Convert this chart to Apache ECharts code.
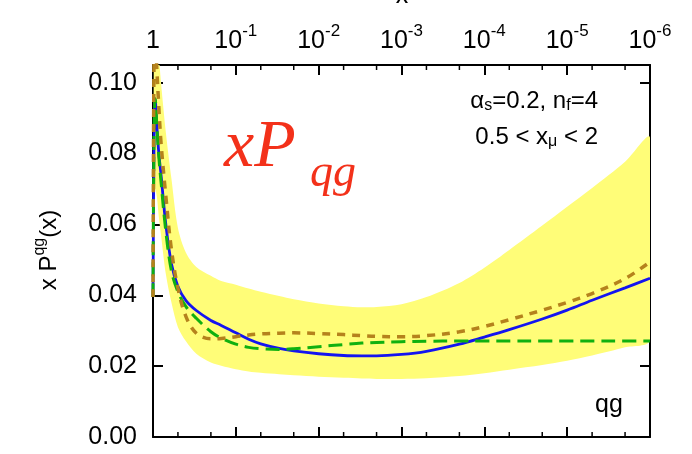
<!DOCTYPE html>
<html><head><meta charset="utf-8">
<script src="https://cdn.jsdelivr.net/npm/echarts@6.0.0/dist/echarts.min.js"></script>
<style>html,body{margin:0;padding:0;background:#fff}#c{width:692px;height:454px}</style>
</head><body><div id="c"></div>
<script>
// ---- data ----
const xValues  = [1, 0.97, 0.94, 0.9, 0.85, 0.8, 0.7, 0.6, 0.5, 0.4, 0.3, 0.2, 0.15, 0.1, 0.07, 0.05, 0.03, 0.02, 0.01, 5e-3, 3e-3, 2e-3, 1e-3, 5e-4, 2e-4, 1e-4, 5e-5, 2e-5, 1e-5, 5e-6, 2e-6, 1e-6];
const blueCurve  = [0.0395, 0.085, 0.0952, 0.088, 0.080, 0.074, 0.060, 0.049, 0.0425, 0.0385, 0.0357, 0.0329, 0.0315, 0.0294, 0.0276, 0.0263, 0.0250, 0.0243, 0.0235, 0.0230, 0.0229, 0.0229, 0.0233, 0.0242, 0.0262, 0.0282, 0.0303, 0.0333, 0.0358, 0.0386, 0.0421, 0.0448];
const greenCurve = [0.0395, 0.088, 0.0955, 0.088, 0.079, 0.072, 0.058, 0.047, 0.041, 0.0368, 0.0335, 0.0297, 0.0279, 0.0262, 0.0253, 0.0249, 0.0247, 0.0249, 0.0255, 0.0261, 0.0265, 0.0267, 0.0269, 0.0270, 0.0271, 0.0271, 0.0271, 0.0271, 0.0271, 0.0271, 0.0271, 0.0271];
const brownCurve = [0.0395, 0.110, 0.113, 0.104, 0.093, 0.083, 0.068, 0.053, 0.042, 0.0340, 0.0293, 0.0277, 0.0278, 0.0283, 0.0288, 0.0291, 0.0293, 0.0294, 0.0292, 0.0289, 0.0286, 0.0284, 0.0283, 0.0286, 0.0297, 0.0312, 0.0331, 0.0358, 0.0380, 0.0405, 0.0447, 0.0494];
const bandHigh = [0.0395, 0.12, 0.125, 0.12, 0.108, 0.100, 0.086, 0.073, 0.059, 0.052, 0.048, 0.0455, 0.0440, 0.0430, 0.0419, 0.0410, 0.0398, 0.0389, 0.0377, 0.0369, 0.0366, 0.0367, 0.0375, 0.0395, 0.0435, 0.0478, 0.0528, 0.0597, 0.0650, 0.0703, 0.0777, 0.0845];
const bandLow  = [0.0395, 0.060, 0.070, 0.068, 0.062, 0.057, 0.046, 0.038, 0.031, 0.027, 0.0235, 0.0210, 0.0201, 0.0191, 0.0185, 0.0181, 0.0177, 0.0174, 0.0170, 0.0167, 0.0165, 0.0164, 0.0164, 0.0166, 0.0172, 0.0180, 0.0190, 0.0203, 0.0215, 0.0230, 0.0253, 0.0274];
const minorTickX = [0.5, 0.2, 0.05, 0.02, 5e-3, 2e-3, 5e-4, 2e-4, 5e-5, 2e-5, 5e-6, 2e-6];
const xMin = 1e-6, xMax = 1;
const yMin = 0, yMax = 0.105, yStep = 0.02;

const FONT = '"Liberation Sans", Arial, Helvetica, sans-serif';
const SERIF = '"Liberation Serif", "Times New Roman", serif';

function xLabel(v) {
  const e = Math.round(Math.log10(v));
  return e === 0 ? '1' : '10{s|' + e + '}';
}

const xCommon = {
  type: 'log', logBase: 10, min: xMin, max: xMax, inverse: true, splitNumber: 6,
  axisLine: {show: true, onZero: false, lineStyle: {color: '#000', width: 2}},
  axisTick: {show: true, inside: true, length: 10, lineStyle: {color: '#000', width: 2}},
  splitLine: {show: false}, minorTick: {show: false}
};
const yCommon = {
  type: 'value', min: yMin, max: yMax, interval: yStep,
  axisLine: {show: true, onZero: false, lineStyle: {color: '#000', width: 2}},
  axisTick: {show: true, inside: true, length: 10, lineStyle: {color: '#000', width: 2}},
  splitLine: {show: false}
};

function lineSeries(vals, color, width, dash, z) {
  return {
    type: 'line', data: xValues.map((x, i) => [x, vals[i]]), showSymbol: false,
    smooth: 0.35, clip: true, z: z, silent: true,
    lineStyle: {color: color, width: width, type: dash || 'solid'}
  };
}

const chart = echarts.init(document.getElementById('c'), null, {renderer: 'canvas'});
chart.setOption({
  animation: false,
  backgroundColor: '#fff',
  grid: {left: 153, right: 42, top: 65, bottom: 17, containLabel: false, outerBoundsMode: 'none'},
  xAxis: [
    Object.assign({}, xCommon, {position: 'top', axisLabel: {
      show: true, margin: 6, formatter: xLabel, color: '#000', fontSize: 25, fontFamily: FONT, lineHeight: 36,
      rich: {s: {fontSize: 17, lineHeight: 17, verticalAlign: 'top', color: '#000', fontFamily: FONT}}
    }}),
    Object.assign({}, xCommon, {position: 'bottom', axisLabel: {show: false}})
  ],
  yAxis: [
    Object.assign({}, yCommon, {position: 'left', axisLabel: {
      margin: 16, fontSize: 25, color: '#000', fontFamily: FONT, showMaxLabel: false,
      formatter: v => v.toFixed(2)
    }}),
    Object.assign({}, yCommon, {position: 'right', axisLabel: {show: false}})
  ],
  series: [
    {
      type: 'custom', silent: true, z: 1, clip: true,
      data: xValues.map((x, i) => [x, bandLow[i], bandHigh[i]]),
      encode: {x: 0, y: [1, 2]},
      renderItem: function (params, api) {
        if (params.dataIndex !== 0) return null;
        const pts = [];
        for (let i = 0; i < xValues.length; i++) pts.push(api.coord([xValues[i], bandHigh[i]]));
        for (let i = xValues.length - 1; i >= 0; i--) pts.push(api.coord([xValues[i], bandLow[i]]));
        const cs = params.coordSys;
        return {
          type: 'group',
          clipPath: {type: 'rect', shape: {x: cs.x, y: cs.y, width: cs.width, height: cs.height}},
          children: [{type: 'polygon', shape: {points: pts, smooth: 0.3}, style: {fill: '#fffd78', stroke: null}}]
        };
      }
    },
    lineSeries(blueCurve, '#1414f0', 2.8, 'solid', 3),
    lineSeries(greenCurve, '#10b010', 3, [14, 7], 4),
    lineSeries(brownCurve, '#b5821c', 3.5, [8, 7], 5),
    {
      type: 'custom', silent: true, z: 6, clip: false,
      data: minorTickX.map(x => [x, yMin]),
      renderItem: function (params, api) {
        const p = api.coord([api.value(0), api.value(1)]);
        const cs = params.coordSys;
        const st = {stroke: '#000', lineWidth: 1.5};
        return {type: 'group', children: [
          {type: 'line', shape: {x1: p[0], y1: cs.y + cs.height, x2: p[0], y2: cs.y + cs.height - 5}, style: st},
          {type: 'line', shape: {x1: p[0], y1: cs.y, x2: p[0], y2: cs.y + 5}, style: st}
        ]};
      }
    }
  ],
  graphic: [
    {type: 'text', x: 224, y: 182, z: 10, style: {text: 'xP', font: 'italic 68px ' + SERIF, fill: '#f3311a', textVerticalAlign: 'bottom'}},
    {type: 'text', x: 310, y: 197, z: 10, style: {text: 'qg', font: 'italic 46px ' + SERIF, fill: '#f3311a', textVerticalAlign: 'bottom'}},
    {type: 'text', x: 598, y: 101, z: 10, style: {
      text: '{m|α}{s|s}{m|=0.2, n}{s|f}{m|=4}', textAlign: 'right', textVerticalAlign: 'middle',
      rich: {m: {fontSize: 24, lineHeight: 26, fontFamily: FONT, fill: '#000'}, s: {fontSize: 16, lineHeight: 16, verticalAlign: 'bottom', fontFamily: FONT, fill: '#000'}}
    }},
    {type: 'text', x: 598, y: 137, z: 10, style: {
      text: '{m|0.5 < x}{s|μ}{m| < 2}', textAlign: 'right', textVerticalAlign: 'middle',
      rich: {m: {fontSize: 24, lineHeight: 26, fontFamily: FONT, fill: '#000'}, s: {fontSize: 16, lineHeight: 16, verticalAlign: 'bottom', fontFamily: FONT, fill: '#000'}}
    }},
    {type: 'text', x: 49, y: 250, rotation: Math.PI / 2, z: 10, style: {
      text: '{m|x P}{p|qg}{m|(x)}', textAlign: 'center', textVerticalAlign: 'middle',
      rich: {m: {fontSize: 24, lineHeight: 34, fontFamily: FONT, fill: '#000'}, p: {fontSize: 16, lineHeight: 16, verticalAlign: 'top', fontFamily: FONT, fill: '#000'}}
    }},
    {type: 'text', x: 595, y: 418, z: 10, style: {text: 'qg', font: '25px ' + FONT, fill: '#000', textVerticalAlign: 'bottom'}},
    {type: 'text', x: 402, y: 9, z: 10, style: {text: 'x', font: '25px ' + FONT, fill: '#000', textAlign: 'center', textVerticalAlign: 'bottom'}}
  ]
});
</script>
</body></html>
